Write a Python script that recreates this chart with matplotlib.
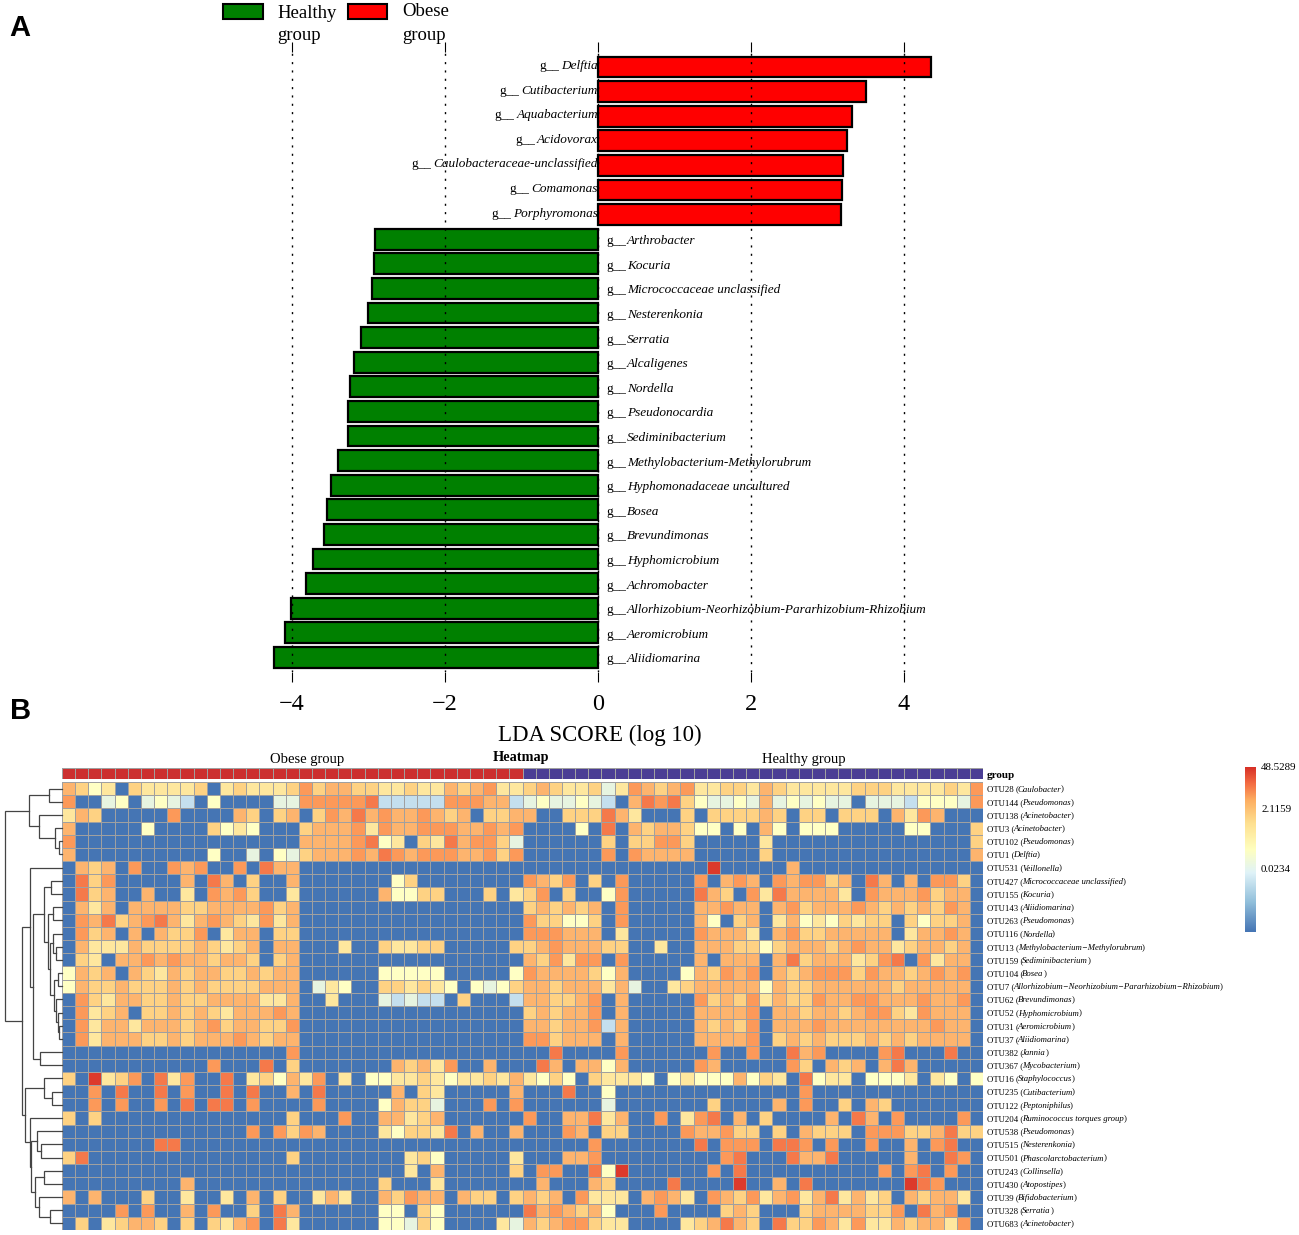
import matplotlib
matplotlib.use("Agg")
import matplotlib.pyplot as plt
import numpy as np
from matplotlib.colors import LinearSegmentedColormap, ListedColormap
from matplotlib.patches import Rectangle

plt.rcParams["font.family"] = ["Liberation Serif", "DejaVu Serif"]

# LDA scores, top bar first
genus_names = ["Delftia", "Cutibacterium", "Aquabacterium", "Acidovorax",
               "Caulobacteraceae-unclassified", "Comamonas", "Porphyromonas",
               "Arthrobacter", "Kocuria", "Micrococcaceae unclassified",
               "Nesterenkonia", "Serratia", "Alcaligenes", "Nordella",
               "Pseudonocardia", "Sediminibacterium",
               "Methylobacterium-Methylorubrum", "Hyphomonadaceae uncultured",
               "Bosea", "Brevundimonas", "Hyphomicrobium", "Achromobacter",
               "Allorhizobium-Neorhizobium-Pararhizobium-Rhizobium",
               "Aeromicrobium", "Aliidiomarina"]
lda_scores = [4.35, 3.50, 3.32, 3.25, 3.20, 3.19, 3.18,
              -2.92, -2.93, -2.95, -3.00, -3.10, -3.19, -3.24, -3.27, -3.27,
              -3.40, -3.49, -3.54, -3.58, -3.73, -3.82, -4.01, -4.09, -4.24]
lda_ticks = [-4, -2, 0, 2, 4]

# heatmap rows
otu_ids = ["OTU28", "OTU144", "OTU138", "OTU3", "OTU102", "OTU1", "OTU531",
           "OTU427", "OTU155", "OTU143", "OTU263", "OTU116", "OTU13", "OTU159",
           "OTU104", "OTU7", "OTU62", "OTU52", "OTU31", "OTU37", "OTU382",
           "OTU367", "OTU16", "OTU235", "OTU122", "OTU204", "OTU538", "OTU515",
           "OTU501", "OTU243", "OTU430", "OTU39", "OTU328", "OTU683"]
otu_genus = ["Caulobacter", "Pseudomonas", "Acinetobacter", "Acinetobacter",
             "Pseudomonas", "Delftia", "Veillonella",
             "Micrococcaceae unclassified", "Kocuria", "Aliidiomarina",
             "Pseudomonas", "Nordella", "Methylobacterium\u2212Methylorubrum",
             "Sediminibacterium", "Bosea",
             "Allorhizobium\u2212Neorhizobium\u2212Pararhizobium\u2212Rhizobium",
             "Brevundimonas", "Hyphomicrobium", "Aeromicrobium", "Aliidiomarina",
             "Jannia", "Mycobacterium", "Staphylococcus", "Cutibacterium",
             "Peptoniphilus", "Ruminococcus torques group", "Pseudomonas",
             "Nesterenkonia", "Phascolarctobacterium", "Collinsella",
             "Atopostipes", "Bifidobacterium", "Serratia", "Acinetobacter"]

# colour level of each cell (0 = blue ... 9 = red)
# left half = obese samples, right half = healthy samples
obese_rows = [
    "65340 54444 50454 44575 66554 45446 56744",
    "70023 02321 03000 02277 77781 11117 77661",
    "46500 00070 00065 05605 76867 66765 60556",
    "60000 03000 05343 00056 66747 66777 66767",
    "70000 00000 00000 00066 66783 40548 67752",
    "60000 00000 03002 03256 66768 76777 66757",
    "06560 70076 70070 86600 00000 00000 00000",
    "08570 00006 08605 00600 00000 35000 00000",
    "08560 06004 07675 00400 00006 33550 00504",
    "06460 66665 56666 75600 00000 00000 00000",
    "07685 67864 67654 74600 00000 00000 00000",
    "07560 60655 70466 05500 00000 00000 00000",
    "06444 65555 65456 06600 04005 44550 00005",
    "05406 67676 65665 05600 00000 00000 00000",
    "36560 65465 66556 56600 00003 33330 00003",
    "36556 55565 65555 66602 43005 54543 03235",
    "07546 65565 56666 44600 40002 12110 50001",
    "07456 05565 65466 67600 00000 00000 00000",
    "07466 46665 67566 55700 00000 00000 00000",
    "07466 65565 66676 56600 00000 00000 00000",
    "00000 00000 00000 00700 00000 00000 00000",
    "00000 00000 07000 80500 00000 65647 00600",
    "50945 70847 00804 53647 04033 44543 44546",
    "00708 00807 00808 00608 00000 60540 00006",
    "00707 00708 08807 00007 00003 65520 00707",
    "50500 00000 00000 00500 07006 64560 00000",
    "00000 00000 00007 07576 00004 35548 06006",
    "00000 00880 00000 00000 00000 00000 00000",
    "58000 00000 00000 00500 00000 04530 00004",
    "00000 00000 00000 00000 00000 04060 00005",
    "00000 00006 00000 00000 00005 00040 00000",
    "60600 05004 00406 05004 64006 57660 65505",
    "00007 07006 07005 08600 00003 30530 00000",
    "05045 66505 05467 08400 00003 32530 00042",
]
healthy_rows = [
    "56544 52476 56744 55465 44444 55544 44547",
    "23223 21068 78532 23262 32322 02221 33327",
    "60055 58640 00505 55565 05505 55064 76000",
    "00003 08065 66533 03063 03330 00003 30005",
    "00000 05055 77500 00040 00000 00000 00005",
    "00000 07076 66600 00050 00000 00000 00006",
    "00000 00000 00009 00000 60000 00000 00000",
    "76570 50700 00070 67607 67756 08606 07750",
    "57050 03700 00086 50748 66664 07666 75660",
    "56565 60700 00066 76606 75666 76565 65760",
    "75533 50700 00063 05604 63435 45505 35560",
    "77766 60400 00076 66406 75566 66604 66760",
    "56766 65500 40066 65535 66656 76645 66560",
    "65747 70700 00060 66606 85666 45780 74660",
    "76666 53600 00365 76706 56777 57665 67670",
    "66566 64620 04566 66636 55666 66656 66660",
    "66556 70600 00075 65746 55766 77666 76670",
    "56566 70600 00066 66706 65665 67754 76660",
    "66566 71600 00065 65706 66766 66666 67660",
    "77566 60600 00066 66705 65655 56565 66660",
    "00800 00700 00007 00700 86700 00780 00800",
    "08606 63600 00076 00000 75065 60686 00000",
    "43530 54443 03433 36354 08344 03334 04303",
    "00080 03000 00000 00000 07000 00000 00000",
    "00000 02000 00005 00006 07005 06500 00000",
    "70066 84600 70478 06050 00060 86070 00070",
    "00076 05500 00766 75505 06555 07775 56855",
    "00000 70000 00080 77708 87070 07006 07800",
    "00066 70000 00000 78000 86680 00006 00870",
    "07700 83900 00007 08000 00000 00707 80700",
    "06000 65000 08000 09006 08000 00009 87000",
    "65607 44406 76407 65746 74684 64506 56640",
    "86765 63000 70000 56500 05666 65570 86700",
    "65677 54400 00456 86508 55764 74465 66470",
]
n_obese = 35
n_healthy = 35

# dendrogram: (merge distance in px from the left edge, upper, lower), leaves are row numbers
top_tree = (29, (49, 0, 1), (39, 2, (55, 3, (59, 4, 5))))
mid_tree = (30, 6, (33, (44, (51, 7, 8),
                         (48, (53, 9, 10),
                          (50, (53, 11, (56, 12, 13)),
                           (54, (58, 14, 15), (56, 16, (58, 17, (59, 18, 19))))))),
                    (40, 20, 21)))
low_tree = (25, (44, 22, (52, 23, 24)),
            (30, 25, (31, (37, 26, (41, 27, 28)),
                      (35, (44, 29, 30), (39, 31, (50, 32, 33))))))
row_tree = (5, top_tree, (22, mid_tree, low_tree))

colorbar_labels = ["48.5289", "2.1159", "0.0234"]

W, H = 1299, 1235
fig = plt.figure(figsize=(W / 100, H / 100), dpi=100)
rend = fig.canvas.get_renderer()


def box(x0, y0, x1, y1):
    # axes rectangle from picture pixels
    return [x0 / W, 1 - y1 / H, (x1 - x0) / W, (y1 - y0) / H]


def px_text(x, y, s, **kw):
    kw.setdefault("va", "center")
    return fig.text(x / W, 1 - y / H, s, **kw)


# ---- panel A ----
zero_px = 598
unit_px = 76.5
bar_step = 24.6
ax = fig.add_axes(box(230, 52, 970, 672))
ax.set_xlim((230 - zero_px) / unit_px, (970 - zero_px) / unit_px)
ax.set_ylim((672 - 67) / bar_step, (52 - 67) / bar_step)
y_pos = np.arange(len(lda_scores))
colors = ["red" if v > 0 else "green" for v in lda_scores]
ax.barh(y_pos, lda_scores, height=0.84, color=colors, edgecolor="black",
        linewidth=1.6, zorder=2)
ax.set_xticks(lda_ticks)
ax.set_xticklabels(["\u22124", "\u22122", "0", "2", "4"], fontsize=17.5)
ax.set_yticks([])
ax.tick_params(axis="x", length=7, width=0.8, pad=9, top=True, bottom=True)
# the dotted lines run over the bars here
for tick in lda_ticks:
    ax.axvline(tick, color="black", linestyle=(0, (1.5, 4.5)), linewidth=1, zorder=4)
for s in ax.spines.values():
    s.set_visible(False)
ax.set_xlabel("LDA SCORE (log 10)", fontsize=16.5, labelpad=7)

for i, (name, v) in enumerate(zip(genus_names, lda_scores)):
    if v > 0:
        t = ax.annotate(name, (0, i), xytext=(0, 1), textcoords="offset pixels",
                        ha="right", va="center", style="italic", fontsize=9.55, zorder=1.5)
        left = t.get_window_extent(rend).x0
        x_data = ax.transData.inverted().transform((left - 2, 0))[0]
        ax.annotate("g__", (x_data, i), xytext=(0, 1), textcoords="offset pixels",
                    ha="right", va="center", fontsize=9.55, zorder=1.5)
    else:
        t = ax.annotate("g__", (0, i), xytext=(8, -2), textcoords="offset pixels",
                        ha="left", va="center", fontsize=9.55, zorder=1.5)
        right = t.get_window_extent(rend).x1
        x_data = ax.transData.inverted().transform((right + 1, 0))[0]
        ax.annotate(name, (x_data, i), xytext=(0, -2), textcoords="offset pixels",
                    ha="left", va="center", style="italic", fontsize=9.55, zorder=1.5)

# legend
fig.add_artist(Rectangle((223 / W, 1 - 19 / H), 40 / W, 15 / H, facecolor="green",
                         edgecolor="black", linewidth=1.5, transform=fig.transFigure))
fig.add_artist(Rectangle((348 / W, 1 - 19 / H), 39 / W, 15 / H, facecolor="red",
                         edgecolor="black", linewidth=1.5, transform=fig.transFigure))
px_text(277, 13, "Healthy", fontsize=13.5)
px_text(277, 36, "group", fontsize=13.5)
px_text(402, 12, "Obese", fontsize=13.5)
px_text(402, 35, "group", fontsize=13.5)

px_text(9.5, 28, "A", fontsize=21, fontweight="bold", family="Liberation Sans")
px_text(10, 711, "B", fontsize=21, fontweight="bold", family="Liberation Sans")

# ---- panel B ----
cell_cmap = LinearSegmentedColormap.from_list(
    "cells", ["#4575b4", "#c6e0ef", "#e8f4e0", "#ffffc4", "#fee79e", "#fed283",
              "#fdb46e", "#fc9a59", "#f57a4a", "#dc3a2b"])
cells = np.array([[int(c) for c in (a + b).replace(" ", "")]
                  for a, b in zip(obese_rows, healthy_rows)])

hm = fig.add_axes(box(62, 782, 983, 1230))
hm.pcolormesh(cells, cmap=cell_cmap, vmin=0, vmax=9, edgecolors="#a0a0a0", linewidth=0.7)
hm.set_ylim(len(otu_ids), 0)
hm.axis("off")

top = fig.add_axes(box(62, 768, 983, 779))
groups = np.array([[0] * n_obese + [1] * n_healthy])
top.pcolormesh(groups, cmap=ListedColormap(["#cc3030", "#4a3d94"]),
               edgecolors="#a0a0a0", linewidth=0.7)
top.axis("off")

px_text(307, 760, "Obese group", fontsize=10.5, ha="center")
px_text(804, 760, "Healthy group", fontsize=10.5, ha="center")
px_text(521, 757, "Heatmap", fontsize=10.3, ha="center", fontweight="bold")
px_text(987, 775, "group", fontsize=8, fontweight="bold")

row_h = 448 / len(otu_ids)
for i, (otu, genus) in enumerate(zip(otu_ids, otu_genus)):
    y = 783 + (i + 0.5) * row_h
    t1 = px_text(987, y, otu + " (", fontsize=6.3)
    x1 = t1.get_window_extent(rend).x1
    t2 = px_text(x1 - 1, y, genus, fontsize=6.3, style="italic")
    x2 = t2.get_window_extent(rend).x1
    px_text(x2 - 0.5, y, ")", fontsize=6.3)

# dendrogram
den = fig.add_axes(box(0, 782, 62, 1230))
den.set_xlim(0, 62)
den.set_ylim(len(otu_ids), 0)
den.axis("off")


def draw_tree(node):
    # returns x, y of the node
    if isinstance(node, int):
        return 62, node + 0.5
    h, a, b = node
    xa, ya = draw_tree(a)
    xb, yb = draw_tree(b)
    den.plot([xa, h, h, xb], [ya, ya, yb, yb], color="#444444", linewidth=0.9,
             solid_joinstyle="miter", clip_on=False)
    return h, (ya + yb) / 2


draw_tree(row_tree)

# colour bar
cb = fig.add_axes(box(1245, 767, 1256, 932))
bar_cmap = LinearSegmentedColormap.from_list(
    "bar", [(0, "#4575b4"), (0.18, "#91bfdb"), (0.36, "#e0f3f8"), (0.5, "#ffffbf"),
            (0.66, "#fee090"), (0.8, "#fdae61"), (0.9, "#f46d43"), (1, "#d73027")])
cb.imshow(np.linspace(1, 0, 256)[:, None], aspect="auto", cmap=bar_cmap)
cb.axis("off")
for lab, y in zip(colorbar_labels, [768, 810, 870]):
    px_text(1261, y, lab, fontsize=7.9)

plt.savefig("out.png", dpi=100)
